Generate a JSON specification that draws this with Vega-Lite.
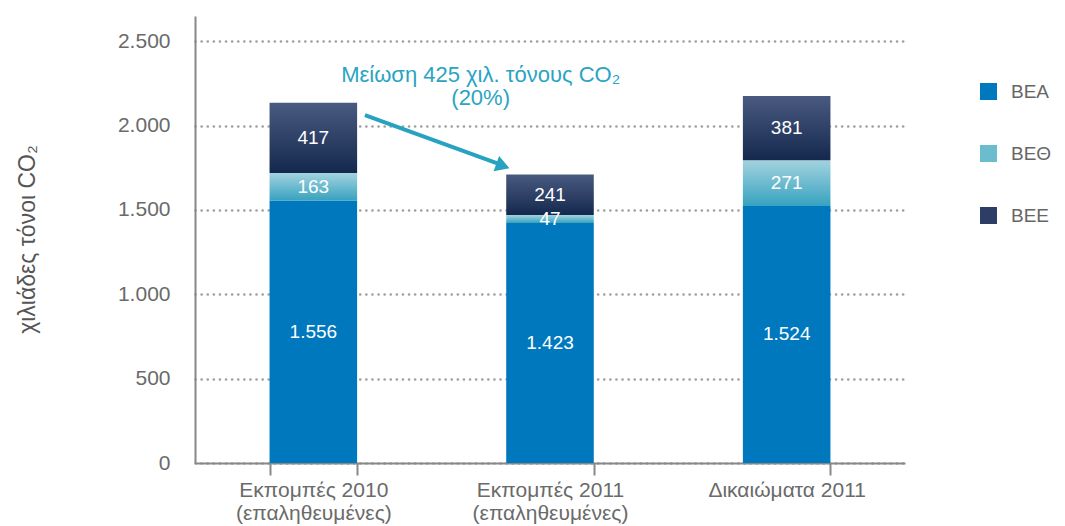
{
  "$schema": "https://vega.github.io/schema/vega-lite/v6.json",
  "width": 710,
  "height": 447,
  "autosize": {"type": "none"},
  "padding": {"left": 195, "top": 16, "right": 160, "bottom": 63},
  "background": "white",
  "config": {
    "view": {"stroke": null},
    "font": "Liberation Sans"
  },
  "datasets": {
    "bars": [
      {"cat": "Εκπομπές 2010|(επαληθευμένες)", "series": "ΒΕΑ", "order": 1, "value": 1556, "label": "1.556"},
      {"cat": "Εκπομπές 2010|(επαληθευμένες)", "series": "ΒΕΘ", "order": 2, "value": 163, "label": "163"},
      {"cat": "Εκπομπές 2010|(επαληθευμένες)", "series": "ΒΕΕ", "order": 3, "value": 417, "label": "417"},
      {"cat": "Εκπομπές 2011|(επαληθευμένες)", "series": "ΒΕΑ", "order": 1, "value": 1423, "label": "1.423"},
      {"cat": "Εκπομπές 2011|(επαληθευμένες)", "series": "ΒΕΘ", "order": 2, "value": 47, "label": "47"},
      {"cat": "Εκπομπές 2011|(επαληθευμένες)", "series": "ΒΕΕ", "order": 3, "value": 241, "label": "241"},
      {"cat": "Δικαιώματα 2011", "series": "ΒΕΑ", "order": 1, "value": 1524, "label": "1.524"},
      {"cat": "Δικαιώματα 2011", "series": "ΒΕΘ", "order": 2, "value": 271, "label": "271"},
      {"cat": "Δικαιώματα 2011", "series": "ΒΕΕ", "order": 3, "value": 381, "label": "381"}
    ],
    "arrow": [
      {"x": 0.718, "y": 2063},
      {"x": 1.295, "y": 1768}
    ],
    "head": [
      {"x": 1.301, "y": 1761}
    ],
    "note": [
      {"x": 1.207, "y": 2300, "text": "Μείωση 425 χιλ. τόνους CO₂"},
      {"x": 1.207, "y": 2165, "text": "(20%)"}
    ]
  },
  "layer": [
    {
      "data": {"name": "bars"},
      "transform": [
        {"stack": "value", "groupby": ["cat"], "sort": [{"field": "order"}], "as": ["v0", "v1"]},
        {"calculate": "(datum.v0 + datum.v1) / 2", "as": "mid"}
      ],
      "layer": [
        {
          "mark": {"type": "bar"},
          "encoding": {
            "x": {
              "field": "cat", "type": "nominal", "sort": null,
              "scale": {"paddingInner": 0.63, "paddingOuter": 0.315},
              "axis": {
                "title": null,
                "labelAngle": 0,
                "labelExpr": "split(datum.label, '|')",
                "tickBand": "extent",
                "tickSize": 12,
                "tickColor": "#888888",
                "tickWidth": 2,
                "domainColor": "#888888",
                "domainWidth": 2,
                "labelFontSize": 21,
                "labelColor": "#6a6a6a",
                "labelPadding": 4,
                "labelLineHeight": 23,
                "labelBaseline": "top"
              }
            },
            "y": {
              "field": "v0", "type": "quantitative",
              "scale": {"domain": [0, 2650], "nice": false},
              "axis": {
                "values": [0, 500, 1000, 1500, 2000, 2500],
                "labelExpr": "replace(format(datum.value, ','), ',', '.')",
                "ticks": false,
                "labelPadding": 25,
                "labelFontSize": 21,
                "labelColor": "#6a6a6a",
                "domainColor": "#888888",
                "domainWidth": 2,
                "grid": true,
                "gridDash": [0.1, 6],
                "gridWidth": 2.6,
                "gridColor": "#a0a0a0",
                "gridCap": "round",
                "title": "χιλιάδες τόνοι CO₂",
                "titleFontSize": 23,
                "titleFontWeight": "normal",
                "titleColor": "#555555",
                "titleX": -161,
                "titleY": 223,
                "titleAngle": -90,
                "titleAlign": "center",
                "titleBaseline": "alphabetic"
              }
            },
            "y2": {"field": "v1"},
            "color": {
              "condition": [
                {"test": "datum.series === 'ΒΕΘ'", "value": {"gradient": "linear", "x1": 0, "y1": 0, "x2": 0, "y2": 1, "stops": [{"offset": 0, "color": "#a3d3df"}, {"offset": 1, "color": "#37a2bf"}]}},
                {"test": "datum.series === 'ΒΕΕ'", "value": {"gradient": "linear", "x1": 0, "y1": 0, "x2": 0, "y2": 1, "stops": [{"offset": 0, "color": "#4a5a80"}, {"offset": 1, "color": "#14284e"}]}}
              ],
              "field": "series", "type": "nominal",
              "scale": {
                "domain": ["ΒΕΑ", "ΒΕΘ", "ΒΕΕ"],
                "range": ["#0078be", "#6cbcd0", "#2c3d66"]
              },
              "legend": {
                "title": null,
                "orient": "none",
                "legendX": 784,
                "legendY": 66,
                "symbolType": "square",
                "symbolSize": 289,
                "symbolStrokeWidth": 0,
                "symbolOpacity": 1,
                "labelFontSize": 19,
                "labelColor": "#666666",
                "labelOffset": 13,
                "rowPadding": 42,
                "encode": {
                  "symbols": {
                    "update": {
                      "fill": {"signal": "datum.value === 'ΒΕΘ' ? {gradient: 'linear', x1: 0, y1: 0, x2: 1, y2: 0, stops: [{offset: 0, color: '#2fa0bd'}, {offset: 1, color: '#a8d5e0'}]} : datum.value === 'ΒΕΕ' ? {gradient: 'linear', x1: 0, y1: 0, x2: 1, y2: 0, stops: [{offset: 0, color: '#14284e'}, {offset: 1, color: '#4a5a80'}]} : '#0078be'"}
                    }
                  }
                }
              }
            }
          }
        },
        {
          "mark": {"type": "text", "color": "white", "fontSize": 19, "baseline": "middle", "align": "center"},
          "encoding": {
            "x": {"field": "cat", "type": "nominal", "sort": null},
            "y": {"field": "mid", "type": "quantitative"},
            "text": {"field": "label"}
          }
        }
      ]
    },
    {
      "layer": [
        {
          "data": {"name": "arrow"},
          "mark": {"type": "line", "color": "#27a3c0", "strokeWidth": 4},
          "encoding": {
            "x": {"field": "x", "type": "quantitative", "scale": {"domain": [0, 3], "nice": false, "zero": false}, "axis": null},
            "y": {"field": "y", "type": "quantitative"}
          }
        },
        {
          "data": {"name": "head"},
          "mark": {"type": "point", "shape": "triangle-right", "filled": true, "color": "#27a3c0", "opacity": 1, "size": 260, "angle": 20},
          "encoding": {
            "x": {"field": "x", "type": "quantitative", "scale": {"domain": [0, 3], "nice": false, "zero": false}, "axis": null},
            "y": {"field": "y", "type": "quantitative"}
          }
        },
        {
          "data": {"name": "note"},
          "mark": {"type": "text", "color": "#2aa4c2", "fontSize": 22, "align": "center", "baseline": "middle"},
          "encoding": {
            "x": {"field": "x", "type": "quantitative", "scale": {"domain": [0, 3], "nice": false, "zero": false}, "axis": null},
            "y": {"field": "y", "type": "quantitative"},
            "text": {"field": "text"}
          }
        }
      ]
    }
  ],
  "resolve": {"scale": {"x": "independent"}, "axis": {"x": "independent"}}
}
